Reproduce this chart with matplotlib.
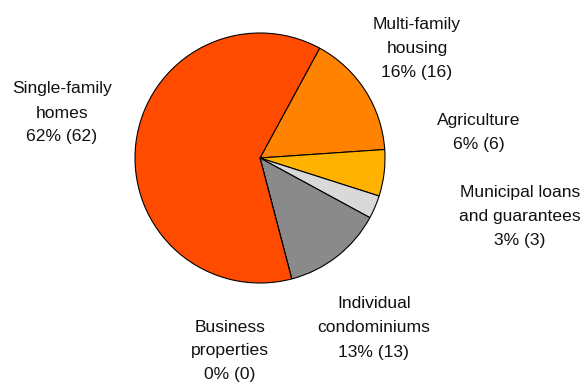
import matplotlib
matplotlib.use("Agg")
import matplotlib.pyplot as plt

# Loan portfolio by segment (shares in percent, counts in parentheses)
categories = ["Multi-family\nhousing", "Agriculture", "Municipal loans\nand guarantees",
              "Individual\ncondominiums", "Business\nproperties", "Single-family\nhomes"]
shares = [16, 6, 3, 13, 0, 62]
counts = [16, 6, 3, 13, 0, 62]
colors = ["#FF8300", "#FFB200", "#D9D9D9", "#8A8A8A", "#5A5A5A", "#FF4B00"]

# Label anchor points in pixel space (x, y from top)
label_pos = [(417, 48), (479, 132), (520, 217), (374, 328), (230, 351), (62, 113)]

W, H = 585, 383
fig = plt.figure(figsize=(W / 100, H / 100), dpi=100)
ax = fig.add_axes([0, 0, 1, 1])

ax.pie(shares, colors=colors, startangle=61.5, counterclock=False,
       center=(260, H - 158), radius=125, frame=True,
       wedgeprops=dict(edgecolor="black", linewidth=0.8))
ax.set_xlim(0, W)
ax.set_ylim(0, H)
ax.set_aspect("equal")
ax.axis("off")

for cat, s, c, (px, py) in zip(categories, shares, counts, label_pos):
    ax.text(px, H - py, f"{cat}\n{s}% ({c})", ha="center", va="center",
            multialignment="center", fontsize=12.6, linespacing=1.75,
            family=["Liberation Sans", "DejaVu Sans"], color="#111111")

fig.savefig("out.png", dpi=100)
